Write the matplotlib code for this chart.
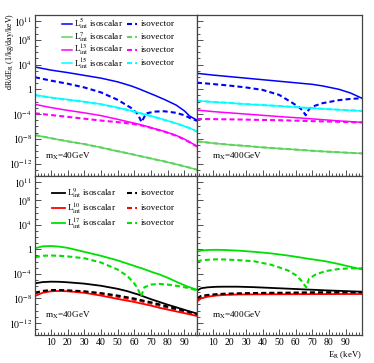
import numpy as np
import matplotlib
matplotlib.use("Agg")
import matplotlib.pyplot as plt
from matplotlib.ticker import NullFormatter, MultipleLocator

plt.rcParams["font.family"] = "Liberation Serif"
plt.rcParams["mathtext.fontset"] = "stix"

# ---- data (log10 of dR/dE_R) ----
# top left, m_X = 40 GeV
E_tl = [0.5, 10, 20, 30, 40, 50, 58, 62, 64.3, 67, 72, 78, 85, 90, 93, 97.5]
L5_s_tl = [3.6, 3.1, 2.7, 2.25, 1.8, 1.2, 0.55, 0.15, -0.1, -0.4, -0.95, -1.65, -2.55, -3.5, -4.3, -5.0]
L5_v_tl = [1.95, 1.4, 0.9, 0.3, -0.5, -1.7, -3.0, -4.0, -5.3, -3.9, -3.6, -3.55, -3.8, -4.2, -4.6, -5.1]
L7_s_tl = [-7.39, -7.9, -8.4, -8.85, -9.4, -10.0, -10.45, -10.7, -10.85, -11.0, -11.3, -11.65, -12.1, -12.45, -12.65, -13.0]
L7_v_tl = L7_s_tl
L13_s_tl = [-2.43, -2.95, -3.4, -3.8, -4.25, -4.85, -5.35, -5.6, -5.77, -5.95, -6.35, -6.8, -7.45, -8.05, -8.5, -9.2]
L13_v_tl = [-3.88, -4.15, -4.45, -4.75, -5.05, -5.3, -5.55, -5.7, -5.85, -6.0, -6.4, -6.85, -7.5, -8.1, -8.55, -9.25]
L15_s_tl = [-0.92, -1.32, -1.66, -2.0, -2.4, -2.95, -3.45, -3.72, -3.9, -4.08, -4.45, -4.93, -5.5, -5.95, -6.25, -6.8]
L15_v_tl = [-0.95, -1.35, -1.69, -2.03, -2.43, -2.98, -3.48, -3.75, -3.93, -4.1, -4.47, -4.95, -5.52, -5.97, -6.27, -6.82]

# top right, m_X = 400 GeV
E_tr = [0.5, 10, 20, 30, 40, 50, 58, 62, 64, 66, 68, 70, 76, 86, 93, 99.9]
L5_s_tr = [2.58, 2.3, 2.05, 1.8, 1.55, 1.3, 1.1, 1.0, 0.95, 0.9, 0.85, 0.8, 0.55, 0.0, -0.6, -1.45]
L5_v_tr = [1.07, 0.85, 0.6, 0.3, -0.1, -0.9, -2.2, -2.9, -3.4, -4.2, -3.2, -2.8, -2.25, -1.75, -1.55, -1.45]
L7_s_tr = [-8.4, -8.7, -8.95, -9.15, -9.38, -9.57, -9.7, -9.78, -9.82, -9.85, -9.9, -9.93, -10.03, -10.17, -10.27, -10.35]
L7_v_tr = L7_s_tr
L13_s_tr = [-3.35, -3.6, -3.8, -4.0, -4.2, -4.4, -4.55, -4.62, -4.66, -4.7, -4.74, -4.78, -4.9, -5.1, -5.22, -5.34]
L13_v_tr = [-4.8, -4.82, -4.85, -4.9, -4.95, -5.0, -5.05, -5.08, -5.1, -5.11, -5.12, -5.14, -5.18, -5.25, -5.3, -5.36]
L15_s_tr = [-1.84, -2.05, -2.2, -2.4, -2.55, -2.7, -2.85, -2.9, -2.95, -2.98, -3.02, -3.05, -3.15, -3.3, -3.4, -3.5]
L15_v_tr = L15_s_tr

# bottom left, m_X = 40 GeV
E_bl = [0.5, 5, 10, 15, 20, 30, 40, 50, 56, 60, 62, 64, 66, 70, 75, 80, 86, 92, 97.5]
L9_s_bl = [-5.55, -5.35, -5.28, -5.3, -5.38, -5.6, -5.95, -6.45, -6.85, -7.2, -7.35, -7.55, -7.75, -8.15, -8.6, -9.05, -9.55, -10.05, -10.5]
L9_v_bl = [-7.08, -6.8, -6.65, -6.65, -6.7, -6.85, -7.15, -7.55, -7.85, -8.05, -8.15, -8.3, -8.42, -8.65, -9.0, -9.35, -9.75, -10.15, -10.55]
L10_s_bl = [-7.62, -7.1, -6.85, -6.8, -6.85, -7.1, -7.55, -8.1, -8.4, -8.6, -8.72, -8.85, -8.95, -9.2, -9.55, -9.85, -10.2, -10.55, -10.9]
L10_v_bl = [-7.2, -6.9, -6.75, -6.72, -6.78, -6.95, -7.3, -7.75, -8.05, -8.25, -8.35, -8.5, -8.6, -8.85, -9.2, -9.55, -9.95, -10.35, -10.7]
L17_s_bl = [0.18, 0.5, 0.55, 0.45, 0.25, -0.4, -1.05, -1.8, -2.35, -2.7, -2.9, -3.05, -3.25, -3.65, -4.1, -4.65, -5.4, -6.1, -6.6]
L17_v_bl = [-1.3, -1.05, -1.0, -1.05, -1.15, -1.45, -2.15, -3.3, -4.4, -5.6, -6.4, -7.7, -6.2, -5.75, -5.65, -5.75, -6.0, -6.3, -6.7]

# bottom right, m_X = 400 GeV
E_br = [0.5, 3, 7, 12, 17, 25, 35, 45, 55, 60, 63, 66.3, 68, 72, 78, 86, 93, 99.9]
L9_s_br = [-6.75, -6.35, -6.2, -6.12, -6.1, -6.1, -6.18, -6.3, -6.42, -6.48, -6.52, -6.56, -6.58, -6.62, -6.7, -6.78, -6.85, -6.92]
L9_v_br = [-8.0, -7.6, -7.45, -7.33, -7.25, -7.19, -7.14, -7.1, -7.08, -7.06, -7.05, -7.04, -7.03, -7.02, -7.01, -7.0, -7.0, -7.0]
L10_s_br = [-8.55, -8.0, -7.73, -7.55, -7.45, -7.38, -7.35, -7.34, -7.33, -7.33, -7.32, -7.32, -7.32, -7.31, -7.31, -7.3, -7.3, -7.3]
L10_v_br = [-8.2, -7.8, -7.6, -7.45, -7.35, -7.28, -7.22, -7.2, -7.18, -7.17, -7.17, -7.16, -7.16, -7.16, -7.15, -7.15, -7.15, -7.15]
L17_s_br = [-0.38, -0.2, -0.1, -0.07, -0.1, -0.2, -0.4, -0.65, -1.0, -1.2, -1.33, -1.48, -1.55, -1.7, -1.95, -2.4, -2.85, -3.27]
L17_v_br = [-2.0, -1.8, -1.7, -1.63, -1.65, -1.75, -1.95, -2.5, -3.4, -4.2, -5.0, -6.2, -4.8, -4.1, -3.55, -3.2, -3.1, -3.1]

ytick_vals = [1e-12, 1e-8, 1e-4, 1, 1e4, 1e8, 1e11]
ytick_labels = [r"$10^{-12}$", r"$10^{-8}$", r"$10^{-4}$", "1", r"$10^{4}$", r"$10^{8}$", r"$10^{11}$"]

top_labs = [r"L$^{5}_{\rm int}$ isoscalar", r"L$^{7}_{\rm int}$ isoscalar",
            r"L$^{13}_{\rm int}$ isoscalar", r"L$^{15}_{\rm int}$ isoscalar"]
bot_labs = [r"L$^{9}_{\rm int}$ isoscalar", r"L$^{10}_{\rm int}$ isoscalar",
            r"L$^{17}_{\rm int}$ isoscalar"]

c_blue, c_green1, c_mag, c_cyan = "#0000ff", "#5fd35f", "#ff00ff", "#00ffff"
c_black, c_red, c_green2 = "#000000", "#ff0000", "#00e000"
dash = (0, (2.4, 1.5))
fs = 6.6

fig = plt.figure(figsize=(3.74, 3.63), dpi=100)
ax_tl = fig.add_axes([0.0936, 0.5152, 0.4332, 0.4435])
ax_tr = fig.add_axes([0.5267, 0.5152, 0.4412, 0.4435])
ax_bl = fig.add_axes([0.0936, 0.0771, 0.4332, 0.4381])
ax_br = fig.add_axes([0.5267, 0.0771, 0.4412, 0.4381])


def style(ax, xlim, left_labels, bottom_labels):
    ax.set_yscale("log")
    ax.set_ylim(1e-14, 1e12)
    ax.set_xlim(*xlim)
    ax.set_yticks(ytick_vals)
    ax.set_yticklabels(ytick_labels if left_labels else [])
    ax.set_yticks([10.0 ** k for k in range(-14, 13)], minor=True)
    ax.yaxis.set_minor_formatter(NullFormatter())
    ax.xaxis.set_major_locator(MultipleLocator(10))
    ax.xaxis.set_minor_locator(MultipleLocator(2))
    ax.tick_params(which="both", direction="in", top=False, right=False,
                   labelsize=fs + 0.4, pad=2, color="#333333", width=0.6)
    ax.tick_params(which="major", length=4.5)
    ax.tick_params(which="minor", length=2.2)
    ax.tick_params(axis="x", labelbottom=bottom_labels)
    for s in ax.spines.values():
        s.set_color("#444444")
        s.set_linewidth(0.9)


def curve(ax, E, logv, color, ls="-", lw=1.1):
    ax.plot(E, np.power(10.0, logv), color=color, linestyle=ls, linewidth=lw)


def key_rows(ax, labels, colors, y0, dy, x_solid, x_dash, lw_solid):
    # two-column key: solid sample + label, dashed sample + "isovector"
    for i, (lab, c) in enumerate(zip(labels, colors)):
        y = y0 - i * dy
        ax.plot(x_solid, [y, y], color=c, lw=lw_solid, transform=ax.transAxes, clip_on=False)
        ax.text(x_solid[1] + 0.01, y, lab, transform=ax.transAxes, fontsize=fs,
                va="center", ha="left")
        ax.plot(x_dash, [y, y], color=c, lw=1.5, linestyle=dash, transform=ax.transAxes, clip_on=False)
        ax.text(x_dash[1] + 0.025, y, "isovector", transform=ax.transAxes, fontsize=fs,
                va="center", ha="left")


# top panels
for ax, E, d, xl, mass, leftlab in [
    (ax_tl, E_tl, (L5_s_tl, L5_v_tl, L7_s_tl, L7_v_tl, L13_s_tl, L13_v_tl, L15_s_tl, L15_v_tl), (0.5, 97.5), "40GeV", True),
    (ax_tr, E_tr, (L5_s_tr, L5_v_tr, L7_s_tr, L7_v_tr, L13_s_tr, L13_v_tr, L15_s_tr, L15_v_tr), (0.5, 99.9), "400GeV", False),
]:
    cols = [c_blue, c_green1, c_mag, c_cyan]
    for i, c in enumerate(cols):
        curve(ax, E, d[2 * i], c)
        curve(ax, E, d[2 * i + 1], c, dash, 1.5)
    style(ax, xl, leftlab, False)
    ax.text(0.062 if leftlab else 0.089, 0.124, r"m$_{\rm X}$=" + mass, transform=ax.transAxes,
            fontsize=fs, va="center", ha="left")

# bottom panels
for ax, E, d, xl, mass, leftlab in [
    (ax_bl, E_bl, (L10_s_bl, L10_v_bl, L9_s_bl, L9_v_bl, L17_s_bl, L17_v_bl), (0.5, 97.5), "40GeV", True),
    (ax_br, E_br, (L10_s_br, L10_v_br, L9_s_br, L9_v_br, L17_s_br, L17_v_br), (0.5, 99.9), "400GeV", False),
]:
    cols = [c_red, c_black, c_green2]
    for i, c in enumerate(cols):
        curve(ax, E, d[2 * i], c, "-", 1.3)
        curve(ax, E, d[2 * i + 1], c, dash, 1.5)
    style(ax, xl, leftlab, True)
    ax.text(0.062 if leftlab else 0.089, 0.121, r"m$_{\rm X}$=" + mass, transform=ax.transAxes,
            fontsize=fs, va="center", ha="left")

key_rows(ax_tl, top_labs, [c_blue, c_green1, c_mag, c_cyan], 0.947, 0.0826,
         [0.167, 0.228], [0.568, 0.630], 1.1)
key_rows(ax_bl, bot_labs, [c_black, c_red, c_green2], 0.891, 0.0943,
         [0.105, 0.185], [0.568, 0.630], 1.3)

fig.text(10 / 374, 1 - 13 / 363, r"dR/dE$_{\rm R}$ (1/kg/day/keV)", rotation=90,
         ha="center", va="top", fontsize=5.8)
fig.text(362 / 374, 1 - 355 / 363, r"E$_{\rm R}$ (keV)", ha="right", va="center", fontsize=6.2)

fig.savefig("out.png", dpi=100)
